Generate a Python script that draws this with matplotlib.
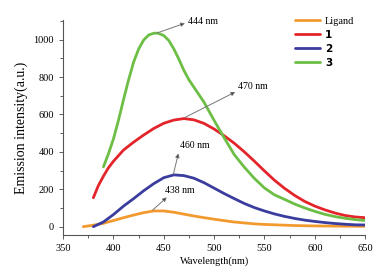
import matplotlib
matplotlib.use("Agg")
import matplotlib.pyplot as plt
from matplotlib.ticker import MultipleLocator

# emission spectra (nm, a.u.)
wl_ligand = [370, 380, 390, 400, 410, 420, 430, 440, 450, 460, 470, 480, 490, 500,
             510, 520, 530, 540, 550, 560, 570, 580, 590, 600, 620, 650]
ligand = [0, 8, 18, 33, 48, 62, 75, 84, 84, 77, 67, 57, 48, 40,
          32, 25, 20, 15, 12, 10, 8, 6, 5, 4, 3, 2]

wl_1 = [380, 385, 390, 395, 400, 410, 420, 430, 440, 450, 460, 470, 480, 490, 500, 510,
        520, 530, 540, 550, 560, 570, 580, 590, 600, 610, 620, 630, 640, 650]
em_1 = [155, 220, 270, 315, 350, 410, 452, 490, 525, 553, 570, 578, 571, 552, 522, 486,
        446, 400, 350, 298, 248, 205, 167, 135, 110, 90, 73, 60, 52, 48]

wl_2 = [380, 390, 400, 410, 420, 430, 440, 450, 460, 470, 480, 490, 500, 510,
        520, 530, 540, 550, 560, 570, 580, 590, 600, 610, 620, 630, 640, 650]
em_2 = [0, 25, 65, 110, 150, 192, 230, 262, 277, 273, 259, 235, 206, 177,
        150, 124, 102, 84, 68, 55, 44, 35, 28, 22, 17, 13, 10, 9]

wl_3 = [390, 395, 400, 405, 410, 415, 420, 425, 430, 435, 440, 444, 450, 455, 460, 465,
        470, 475, 480, 490, 500, 510, 520, 530, 540, 550, 560, 570, 580, 590, 600,
        610, 620, 630, 640, 650]
em_3 = [320, 390, 470, 570, 680, 785, 880, 950, 998, 1025, 1034, 1035, 1022, 995, 950, 895,
        835, 785, 745, 665, 568, 475, 385, 318, 258, 207, 170, 146, 121, 100, 82,
        66, 54, 45, 38, 33]

series_labels = ["Ligand", "1", "2", "3"]
colors = ["#F39A2E", "#E3242B", "#3B3D9E", "#6DBE45"]

# peak labels: (text, peak x, peak y, arrow head x, arrow head y, text x, text y)
peaks = [
    ("444 nm", 443, 1035, 471, 1088, 474, 1095),
    ("470 nm", 471, 584, 521, 720, 524, 747),
    ("460 nm", 459.5, 281, 464.5, 392, 466, 436),
    ("438 nm", 439, 89, 453, 157, 451, 196),
]

plt.rcParams["font.family"] = ["Liberation Serif", "DejaVu Serif"]

fig = plt.figure(figsize=(3.76, 2.74), dpi=100)
ax = fig.add_axes([0.168, 0.142, 0.803, 0.785])

xs = [wl_ligand, wl_1, wl_2, wl_3]
ys = [ligand, em_1, em_2, em_3]
for x, y, lab, c in zip(xs, ys, series_labels, colors):
    ax.plot(x, y, color=c, lw=2.0, label=lab, solid_capstyle="round",
            solid_joinstyle="round")

for txt, px, py, hx, hy, tx, ty in peaks:
    ax.annotate("", xy=(hx, hy), xytext=(px, py),
                arrowprops=dict(arrowstyle="-|>", lw=0.7, mutation_scale=6,
                                edgecolor="#777777", facecolor="#222222",
                                shrinkA=0, shrinkB=0))
    ax.text(tx, ty, txt, fontsize=7, va="center", ha="left")

ax.set_xlim(350, 650)
ax.set_ylim(-45, 1105)
ax.xaxis.set_major_locator(MultipleLocator(50))
ax.xaxis.set_minor_locator(MultipleLocator(25))
ax.yaxis.set_major_locator(MultipleLocator(200))
ax.yaxis.set_minor_locator(MultipleLocator(100))
ax.tick_params(labelsize=7.5, length=3, width=0.6, colors="#444444", labelcolor="black")
ax.tick_params(which="minor", length=2, width=0.6, colors="#444444")

for s in ["top", "right"]:
    ax.spines[s].set_visible(False)
for s in ["left", "bottom"]:
    ax.spines[s].set_color("#555555")
    ax.spines[s].set_linewidth(0.8)

ax.set_xlabel("Wavelength(nm)", fontsize=7.5, labelpad=2)
ax.set_ylabel("Emission intensity(a.u.)", fontsize=10, labelpad=4)

leg = ax.legend(loc="upper right", bbox_to_anchor=(0.985, 1.045), frameon=False,
                fontsize=7.5, handlelength=2.4, handletextpad=0.5,
                labelspacing=0.38, borderaxespad=0.2)
for i, t in enumerate(leg.get_texts()):
    if i > 0:
        t.set_family("DejaVu Sans")
        t.set_fontweight("bold")
for line in leg.get_lines():
    line.set_linewidth(2.0)

fig.savefig("out.png", dpi=100)
